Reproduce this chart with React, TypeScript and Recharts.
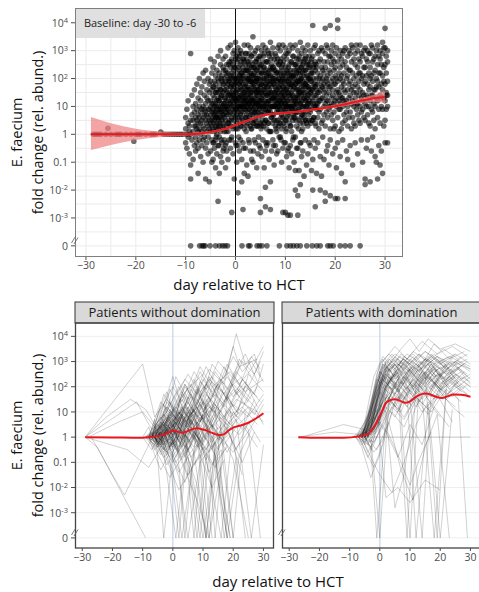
import {
  ComposedChart,
  LineChart,
  Scatter,
  Line,
  Area,
  XAxis,
  YAxis,
  CartesianGrid,
  ReferenceLine,
  ReferenceArea,
} from 'recharts';

const FONT = "'Open Sans', 'Noto Sans', sans-serif";

// Values are log10 fold change; a fold change of exactly 0 sits on its own row.
const ZERO_ROW = -4;
const Y_DOMAIN = [-4.4, 4.53];
const Y_TICKS = [-4, -3, -2, -1, 0, 1, 2, 3, 4];
const yTickBase = ['0', '10', '10', '0.1', '1', '10', '10', '10', '10'];
const yTickExp = ['', '-3', '-2', '', '', '', '2', '3', '4'];
const X_TICKS = [-30, -20, -10, 0, 10, 20, 30];
const X_DOMAIN_TOP = [-32.2, 33.6];
const X_DOMAIN_FACET = [-32.4, 33.5];

// baseline samples (day -30 to -10)
const baselineDays = [-28.5, -28, -27.5, -27, -26, -25.6, -25, -24, -23.5, -23, -22, -21, -20.4, -20, -19.5, -19, -18, -17, -16.5, -16, -15, -14.5, -14, -13.5, -13, -12.5, -12, -11.5, -11, -10.5];
const baselineLogs = [0, 0, 0, 0, 0, 0.22, 0, 0, 0, 0, 0, 0, -0.25, 0, 0, 0, 0, 0, 0, 0, 0.08, 0, 0, 0, 0, 0, 0, 0, 0, 0];

// post-baseline samples, one column per quarter day: "day|log10 values"
const cloudColumns = [
  '-10|0.2 -0.3 0.6', '-9.75|0 0.9 -0.5', '-9.5|-0.1 0.4 1.2', '-9.25|0.3 -0.7 0.1',
  '-9|2.9 -1.1 -1.6 0.5 0', '-8.75|0.7 -0.2 1.4', '-8.5|0.1 -0.9 0.5 1.0', '-8.25|-0.4 0.3 1.6 0.8',
  '-8|0.6 -0.1 1.1 -0.6 0.3', '-7.75|0.2 1.8 -0.3 0.9 0.5', '-7.5|-1.4 0.7 0.1 1.3 -0.5 0.4', '-7.25|1.0 -0.2 0.6 2.0 0.2',
  '-7|0.4 -0.8 1.5 0.8 0 1.2', '-6.75|0.9 0.1 -0.4 1.7 0.5', '-6.5|2.2 0.3 1.0 -1.0 0.6 -0.2', '-6.25|0.7 1.4 -0.1 0.2 1.9 0.9',
  '-6|2.3 -1.6 0.5 1.1 -0.5 0.8', '-5.75|1.3 0.1 0.7 -0.3 1.6 0.4', '-5.5|0.9 2.0 -0.7 0.3 1.2 -0.1 0.6', '-5.25|-1.7 0.5 1.5 0.2 0.9 1.8',
  '-5|2.7 0.4 1.2 -0.6 1.9 0.7 0.1 1.0', '-4.75|0.8 1.6 -0.2 0.5 2.2 1.1 -1.0 0.3',
  '-4.5|1.4 0.2 -0.9 0.9 2.4 0.6 1.7 -0.3', '-4.25|0.5 1.9 1.0 -0.5 0.1 1.3 2.6 0.7',
  '-4|2.1 0.8 -1.2 1.5 0.3 1.1 -0.2 1.8 0.6', '-3.75|1.2 0 0.7 2.3 -0.7 1.6 0.4 0.9',
  '-3.5|-2.4 1.5 0.6 2.0 -0.4 1.0 0.2 1.3 2.8', '-3.25|0.9 1.7 -0.1 0.4 2.2 1.2 -1.4 0.6',
  '-3|3.0 1.3 0.3 2.5 -0.8 1.6 0.8 1.0 0.1', '-2.75|1.1 2.1 0.5 -0.3 1.4 0.8 1.9 -1.0',
  '-2.5|2.4 0.7 -0.6 1.5 0.2 1.0 1.8 0.4 2.7', '-2.25|0.6 1.3 2.0 -0.2 0.9 1.6 0.1 1.1',
  '-2|2.8 1.0 -0.4 1.9 0.5 1.3 2.3 0.8 -1.2', '-1.75|1.5 0.3 2.1 1.0 -0.6 1.7 0.7 2.5',
  '-1.5|3.1 1.2 0.4 2.2 -0.9 1.4 0.9 1.8 0.1', '-1.25|0.8 1.9 1.1 2.6 -0.2 0.5 1.5 2.0',
  '-1|3.2 2.0 0.8 -0.5 1.4 2.4 1.1 0.3 1.7', '-0.75|-2.8 1.3 2.2 0.6 1.8 1.0 2.7 -0.1 1.5',
  '-0.5|2.5 1.2 0.2 2.9 -0.7 1.6 0.9 2.1 1.4', '-0.25|1.9 0.5 1.1 2.4 -1.6 1.7 0.8 2.0 1.3 3.0',
  '0|3.3 1.8 0.6 2.4 -0.3 1.3 2.0 0.9 1.5 2.7', '0.25|1.1 2.2 -1.0 1.6 0.4 2.6 1.2 1.9 0.7',
  '0.5|-2.1 2.7 1.0 0.2 3.1 1.6 -0.4 2.0 0.8 1.3', '0.75|1.4 2.3 0.5 1.8 1.0 2.8 -0.6 1.2 2.1 0.9',
  '1|2.1 0.7 3.0 1.4 -0.2 2.5 1.0 1.7 0.3 1.9', '1.25|-1.7 1.2 2.2 0.6 1.6 2.9 1.0 -0.9 1.4 2.0',
  '1.5|-2.7 2.4 1.1 0.5 1.8 2.7 1.3 0.8 2.1 -0.3', '1.75|1.5 0.9 2.3 1.2 3.2 0.2 1.7 2.6 1.0 -1.4',
  '2|1.5 2.9 0.6 2.2 -0.5 1.8 1.1 2.5 1.3 0.9', '2.25|2.0 1.2 0.3 1.6 2.7 1.0 -1.1 1.9 2.3 0.7',
  '2.5|-1.5 2.3 1.1 3.2 0.4 1.7 2.0 1.4 0.8 2.6', '2.75|1.3 0.6 1.9 2.4 -0.3 1.1 2.9 1.6 0.9 2.1',
  '3|2.6 1.0 3.1 0.3 1.9 1.4 -0.6 1.5 2.2 1.2', '3.25|1.7 2.4 0.8 1.2 2.8 0.2 1.9 1.0 -0.9 2.1',
  '3.5|3.5 1.8 0.7 2.5 1.2 -1.0 2.0 1.5 0.4 1.1', '3.75|1.0 2.2 1.6 0.5 2.9 1.3 -0.2 1.8 2.4 0.8',
  '4|2.1 0.9 3.0 1.6 -0.3 2.6 1.3 0.5 1.9 1.1', '4.25|1.4 2.3 0.7 1.9 1.1 2.7 -1.2 1.5 0.3 2.0',
  '4.5|1.7 3.1 0.8 2.4 -0.7 1.4 2.0 1.1 0.3 1.6', '4.75|0.9 1.8 2.5 1.2 0.4 2.2 1.5 -0.4 2.8 1.0',
  '5|-2.8 -2.3 2.8 1.2 0.4 2.0 1.7 -0.5 1.0 2.4', '5.25|1.5 0.8 2.2 1.1 3.0 0.3 1.8 1.3 -0.8',
  '5.5|2.2 0.7 3.2 1.4 -0.2 2.6 1.0 1.9 0.5', '5.75|1.2 2.0 0.4 1.6 2.4 1.0 -1.2 1.7 2.9',
  '6|-2.6 -1.9 1.8 3.1 0.5 2.3 1.2 -0.6 1.5 0.9', '6.25|2.1 1.1 0.2 1.7 2.6 1.4 0.8 -0.4 2.0',
  '6.5|2.6 1.1 3.0 0.4 1.9 2.2 -0.3 1.4 0.8', '6.75|0.9 1.6 2.3 1.2 0.1 2.8 1.0 1.9 -0.9',
  '7|-2.7 -1.7 2.1 0.8 3.3 1.5 0.1 2.4 1.2 1.8', '7.25|1.3 2.5 0.6 1.7 1.0 2.1 -0.6 1.5 2.9',
  '7.5|1.9 3.1 0.7 2.4 1.3 -0.2 2.0 1.0 0.4', '7.75|1.1 1.8 2.3 0.5 1.5 2.7 1.0 -1.1 1.3',
  '8|2.9 1.2 0.3 2.3 1.7 -0.4 1.0 1.5 2.0', '8.25|1.6 0.8 2.2 1.3 0.1 2.6 1.9 1.0 -0.7',
  '8.5|1.4 2.7 0.5 3.1 1.9 -0.6 1.1 2.2 0.9', '8.75|2.0 1.2 1.7 0.4 2.5 1.0 3.2 -0.1 1.5',
  '9|2.2 0.9 3.0 1.6 -0.1 2.6 1.2 0.4 1.8', '9.25|1.1 2.1 0.7 1.5 2.4 -1.0 1.3 1.9 0.2',
  '9.5|-2.8 1.7 3.2 0.6 2.5 1.3 -0.5 2.0 1.0', '9.75|1.4 0.8 2.2 1.9 0.3 2.8 1.1 1.6 -0.3',
  '10|-2.8 2.4 1.1 0.5 3.1 1.8 -0.3 2.0 1.4 0.9', '10.25|1.6 2.3 0.6 1.2 2.7 1.0 -0.8 1.9 0.2',
  '10.5|-2.9 1.5 2.9 0.7 2.2 1.2 -0.6 1.7 1.0', '10.75|1.0 1.8 2.5 0.4 1.4 3.0 0.8 2.1 -1.2',
  '11|-2.9 2.0 1.0 3.2 0.3 1.7 2.3 -0.4 1.3', '11.25|1.5 0.9 2.1 1.2 2.6 0.1 1.8 -0.7 1.0',
  '11.5|1.4 2.8 0.9 2.1 -0.2 1.6 3.1 0.5 1.9', '11.75|2.3 1.1 0.6 1.7 2.5 1.3 -1.0 2.0 0.8',
  '12|-2.0 -1.3 2.5 1.2 0.6 3.2 1.8 -0.1 2.1 1.0', '12.25|1.9 0.8 1.4 2.7 0.3 1.1 2.2 -0.5 1.6',
  '12.5|-2.2 -2.9 1.9 3.0 0.8 2.4 1.3 -0.5 1.6', '12.75|1.2 2.0 0.5 1.5 2.8 0.9 1.8 -1.3 2.3',
  '13|-1.8 2.6 1.1 3.3 0.4 1.9 2.2 -0.3 1.5', '13.25|1.7 0.7 2.4 1.2 0.1 2.0 1.4 -0.8 2.9',
  '13.5|2.2 0.7 1.6 3.1 -0.6 2.5 1.0 0.2 1.9', '13.75|1.0 1.8 2.3 0.6 1.3 2.7 -1.5 1.5',
  '14|1.8 3.0 0.5 2.3 1.2 -0.2 2.7 1.5 0.8', '14.25|1.3 2.1 0.4 1.7 2.5 1.0 -1.1 1.9',
  '14.5|2.6 1.1 0.3 3.2 1.7 -0.7 2.1 1.4', '14.75|0.9 1.6 2.4 1.2 -0.3 2.0 2.8 0.5',
  '15|2.0 0.8 3.0 1.5 -0.4 2.4 1.1', '15.25|1.6 2.2 0.5 1.3 2.7 -1.3 1.9',
  '15.5|3.9 -2.0 1.6 2.8 0.5 2.2 1.2 -0.9', '15.75|1.0 1.8 2.5 0.6 1.4 3.1 -0.2',
  '16|-2.6 2.3 1.0 3.2 0.4 1.7 2.6 -0.5', '16.25|1.3 2.0 0.9 1.6 2.4 -1.4 1.1',
  '16.5|1.5 2.9 0.6 2.2 1.1 -0.3 1.8', '16.75|2.0 1.2 0.2 2.6 1.5 3.0 0.8',
  '17|-2.0 2.1 0.9 2.7 1.6 -0.8 1.2', '17.25|1.9 0.4 2.4 1.3 3.1 -1.5 1.7',
  '17.5|1.3 3.0 0.5 2.3 1.7 -0.1 2.0', '17.75|1.0 2.6 1.5 0.7 2.2 -0.9 1.8',
  '18|3.8 -2.1 -2.4 2.4 1.1 0.3 2.9 1.6', '18.25|1.4 2.0 -0.6 1.9 0.8 3.2 1.2',
  '18.5|1.8 0.6 2.6 1.2 -0.4 2.1 3.1', '18.75|1.5 2.3 0.9 1.7 2.8 -1.1 1.0',
  '19|3.9 -2.2 2.2 1.0 2.8 0.2 1.7 -0.2', '19.25|2.5 1.3 0.7 3.0 1.9 1.1',
  '19.5|1.4 2.7 0.5 2.0 -0.7 1.6 3.2', '19.75|1.1 2.3 0.8 1.8 2.6 0.2',
  '20|-2.3 2.4 1.2 0.3 2.9 1.8 -0.5 2.1', '20.25|1.0 3.1 1.5 -1.2 2.0 1.3',
  '20.5|4.1 -2.3 3.8 1.6 2.6 0.6 1.9 -0.3', '20.75|1.2 2.2 0.9 2.8 1.5 0.1',
  '21|2.0 0.9 3.0 1.4 -0.8 2.4 1.1', '21.25|0.2 1.7 2.7 -1.4 1.3 2.1',
  '21.5|1.3 2.5 0.4 1.9 -0.2 2.9 1.0', '21.75|1.6 2.2 0.7 1.2 3.0 1.8',
  '22|-1.7 -2.3 2.6 1.1 0.5 3.1 1.5', '22.25|-0.6 2.0 1.2 2.4 0.8',
  '22.5|1.6 2.8 0.3 2.1 1.0 -0.9', '22.75|1.8 3.0 1.3 0.6 2.3',
  '23|2.3 0.8 2.9 1.4 -0.4 1.9', '23.25|1.1 2.6 0.2 1.6 3.2',
  '23.5|1.2 3.1 0.6 2.2 1.7 -1.1', '23.75|2.7 1.0 1.5 2.0 0.4',
  '24|2.5 1.3 0.3 2.9 1.8 -0.3', '24.25|2.1 0.9 1.5 3.2 1.1',
  '24.5|1.7 0.7 2.4 1.1 3.0 -0.7', '24.75|1.9 1.4 2.7 0.5 2.2',
  '25|2.2 1.0 3.2 1.6 0.4 2.6', '25.25|-0.2 1.3 2.0 0.8 2.9',
  '25.5|1.5 2.8 0.9 2.1 1.2 -1.0', '25.75|3.0 1.8 0.6 2.4 1.4',
  '26|-1.6 -1.8 2.4 1.1 3.1 0.5 1.9', '26.25|2.7 1.4 -0.5 2.1 1.0',
  '26.5|1.8 0.7 2.6 1.3 3.0 -0.2', '26.75|2.2 1.0 1.6 2.9 0.4',
  '27|-1.7 2.0 1.2 2.9 0.3 1.7 2.4', '27.25|-0.6 1.4 0.9 3.2 2.1',
  '27.5|1.4 2.6 0.8 3.1 1.9 -0.1', '27.75|2.2 1.1 2.7 0.5 1.6',
  '28|-0.8 2.3 1.0 2.8 1.6 0.2', '28.25|3.0 1.3 2.0 -1.0 1.7',
  '28.5|-1.6 1.9 0.6 2.5 1.2 3.2', '28.75|-0.4 1.7 2.2 0.9 2.8',
  '29|-1.1 2.7 1.4 0.4 2.2 3.0', '29.25|1.0 1.8 -0.6 2.5 1.3',
  '29.5|-1.4 2.1 0.9 2.9 1.6 3.3', '29.75|0.3 1.3 2.4 1.9 3.1',
  '30|3.8 -0.3 2.5 1.2 3.1 1.8 0.5', '30.25|2.2 1.5 2.8 0.9 1.4',
  '30.5|-0.3 1.9 1.0 2.6 1.4 3.0',
];

// extra samples in the busiest stretch (day -4 to 16)
const cloudCoreColumns = [
  '-4.375|0.4 1.1 -0.3 1.7 0.8', '-3.875|1.0 0.2 1.5 -0.1 0.6', '-3.375|0.8 1.9 0.3 1.2 -0.4 0.5',
  '-2.875|1.4 0.6 2.0 -0.2 0.9 1.6', '-2.375|0.3 1.1 1.8 0.7 -0.5 2.3', '-1.875|1.6 0.9 0.1 2.2 1.2 -0.3',
  '-1.375|0.7 1.4 2.5 0.4 1.0 1.9', '-0.875|2.1 1.2 0.5 1.7 -0.2 2.6', '-0.375|1.0 1.8 0.3 2.3 1.4 0.7',
  '0.125|2.0 0.9 1.5 2.8 0.2 1.2 -0.4', '0.625|1.3 2.4 0.6 1.8 1.0 2.9 -0.1', '1.125|0.8 1.6 2.2 1.1 0.3 2.6 1.9',
  '1.625|2.0 1.0 0.4 1.5 2.7 -0.5 1.3', '2.125|1.7 0.6 2.3 1.2 2.9 0.1 1.4', '2.625|1.1 2.0 0.5 1.6 2.5 0.9 -0.2',
  '3.125|2.2 1.3 0.7 1.9 2.8 0.2 1.5', '3.625|0.9 1.7 2.4 1.2 0.4 2.1 -0.6', '4.125|1.5 2.6 0.8 1.9 1.1 2.3 0.3',
  '4.625|2.0 1.2 0.6 2.7 1.6 -0.1 1.0', '5.125|1.3 2.2 0.7 1.8 2.5 0.2 1.5', '5.625|0.9 1.6 2.4 1.1 0.3 2.0 2.8',
  '6.125|1.8 1.0 2.6 0.5 1.4 2.2 -0.3', '6.625|1.2 2.1 0.4 1.7 2.9 0.8 1.5', '7.125|2.3 1.4 0.6 1.9 1.0 2.7 0.1',
  '7.625|1.0 1.8 2.4 0.7 1.3 2.0 -0.4', '8.125|1.6 0.5 2.2 1.1 2.8 1.4 0.2', '8.625|2.0 1.2 0.8 1.7 2.5 0.3 1.0',
  '9.125|1.4 2.3 0.6 1.9 1.1 2.7 -0.2', '9.625|0.9 1.7 2.1 1.2 0.4 2.6 1.5', '10.125|2.2 1.0 1.6 0.5 2.9 1.3 0.1',
  '10.625|1.5 2.4 0.8 1.9 1.1 2.0 -0.5', '11.125|1.0 1.8 2.6 0.6 1.4 2.2 0.3', '11.625|2.1 1.2 0.7 1.7 2.8 1.0 -0.1',
  '12.125|1.3 2.3 0.5 1.8 1.1 2.5 0.8', '12.625|1.9 0.9 2.2 1.4 0.2 2.7 1.6', '13.125|1.1 2.0 0.6 1.5 2.4 1.0 -0.3',
  '13.625|1.7 2.6 0.8 1.3 2.1 0.4', '14.125|1.2 2.3 1.8 0.5 2.8 1.0', '14.625|2.0 1.4 0.7 2.5 1.1 1.7',
  '15.125|1.5 2.2 0.9 1.9 2.6 0.4', '15.625|1.1 1.7 2.4 0.6 2.0', '16.125|1.8 1.0 2.5 1.4 0.3',
];

// samples with no E. faecium detected
const zeroDays = [-9, -7.2, -6.7, -6.4, -6.1, -5.1, -4, -3.2, -2.6, -2.1, -1.6, 1.3, 2.6, 2.9, 4.3, 4.8, 5.3, 6.3, 8.8, 10.3, 11, 11.6, 12.3, 13, 14.3, 15.4, 16.3, 17, 18.5, 19, 19.6, 21, 22, 23, 25];

// loess fit with 95% band
const smoothDays = [-29, -25, -20, -15, -10, -7, -5, -3, -1, 0, 2, 4, 5, 7, 10, 13, 15, 18, 20, 22, 25, 27, 28.5, 30];
const smoothFit = [0, 0, 0, 0, 0, 0.03, 0.08, 0.15, 0.26, 0.33, 0.46, 0.6, 0.66, 0.72, 0.77, 0.82, 0.87, 0.95, 1.01, 1.08, 1.2, 1.27, 1.31, 1.34];
const smoothLo = [-0.56, -0.38, -0.2, -0.1, -0.05, -0.02, 0.04, 0.11, 0.22, 0.29, 0.42, 0.56, 0.62, 0.68, 0.73, 0.78, 0.83, 0.9, 0.95, 1.01, 1.11, 1.16, 1.16, 1.1];
const smoothHi = [0.62, 0.4, 0.2, 0.1, 0.05, 0.08, 0.12, 0.19, 0.3, 0.37, 0.5, 0.64, 0.7, 0.76, 0.81, 0.86, 0.91, 1.0, 1.07, 1.15, 1.29, 1.38, 1.46, 1.58];

// per-patient trajectories, "day log10 day log10 ..."
const noDomTraces = [
  '-29 0 -25 -0.4 -9 -4',
  '-29 0 -10 2.9 -6 0.8 -2 1.5 3 0.6 8 1.9 14 0.2',
  '-29 0 -12 1.4 -7 0.3 -3 0.9 2 -0.5 6 1.1 12 0.4 18 -4',
  '-29 0 -22 0.8 -14 1.5 -9 1.1 -5 0.3 -1 0.9 3 0.2',
  '-27 0 -20 -1.5 -16 -2.3 -6 0.2 -1 0.7 4 1.8 10 2.5',
  '-7 0 -3 0.5 1 1.2 5 0.4 9 1.6 13 2.2 17 1.4 22 2.8 28 3.1',
  '-6 0 -2 -0.6 2 0.3 6 -1.2 10 -4 14 -0.5 19 0.2',
  '-8 0 -4 1.1 0 2.0 3 1.4 7 2.6 11 1.9 15 3.0 21 2.2 26 1.5',
  '-5 0 -1 0.4 3 -0.3 7 0.9 11 -0.8 16 -4 20 0.5 25 1.2 30 0.6',
  '-7 0 -4 0.2 -1 -0.9 2 -4 5 0.1 9 0.7 13 1.3',
  '-6 0 -3 0.8 0 1.5 4 2.3 8 1.7 12 2.7 17 2.1 21 4.1 24 2.9 27 3.3 29 2.4',
  '-9 0 -5 -0.4 -1 0.3 3 0.9 7 0.2 12 -0.6 18 0.4 23 -1.5',
  '-5 0 -2 1.2 2 0.6 6 1.9 10 1.1 14 1.7 20 0.9',
  '-7 0 -4 -0.2 0 -1.3 3 -4 7 -0.7 11 0.2',
  '-8 0 -5 0.6 -2 1.0 1 2.4 5 1.5 9 2.8 13 2.0 19 2.6 24 1.8 30 2.3',
  '-6 0 -3 0.3 1 -0.2 4 0.8 8 0.4 12 1.2 16 0.7 21 1.5 28 1.0',
  '-4 0 -1 -0.5 2 -1.6 5 -4 9 -1.0 14 -0.2 19 -4',
  '-7 0 -5 0.9 -2 1.8 1 0.7 4 1.3 8 -0.4 13 0.8 18 1.6 23 3.0 27 2.5 30 3.4',
  '-6 0 -2 0.2 2 1.0 6 0.5 10 1.4 15 0.9 20 2.1 25 1.4',
  '-8 0 -4 -0.7 0 -0.2 4 -1.3 8 -2.5 12 -4 16 -1.2',
  '-5 0 -2 0.7 1 1.6 5 2.5 9 1.8 13 2.4 18 1.5 22 2.0 26 3.2 29 2.7',
  '-7 0 -3 1.3 0 0.4 3 1.7 6 0.8 10 2.0 14 1.1 18 -4',
  '-6 0 -3 -0.3 1 0.5 5 1.2 9 0.3 13 -0.5 17 0.6 22 0.1 27 0.8',
  '-9 0 -6 0.4 -3 -0.1 0 0.9 4 0.2 8 1.5 12 0.8 16 2.2 20 1.2 24 2.0 28 1.6',
  '-5 0 -1 1.9 3 1.0 7 -4 11 1.5 15 0.6',
  '-7 0 -4 0.5 -1 -0.4 2 0.6 6 -0.3 10 0.9 15 0.1 20 -0.6 26 0.4 30 1.3',
  '-6 0 -2 -1.1 2 -0.4 5 0.7 9 -0.2 13 0.5 17 -4 21 -0.8',
  '-8 0 -5 -0.2 -2 0.6 2 1.4 6 2.1 10 1.3 14 2.6 18 1.9 23 2.4',
  '-4 0 0 0.5 4 -0.8 8 0.3 12 -1.4 16 -0.2 21 0.7 26 -4 30 -0.3',
  '-7 0 -4 0.9 0 2.4 3 1.2 7 0.5 11 1.7 16 1.0 20 2.5 24 3.3 28 2.2',
  '-6 0 -3 0.1 0 -0.7 4 -1.8 7 -0.6 11 -4 14 -1.0 18 -0.4',
  '-5 0 -2 0.4 2 0.9 6 1.6 10 0.7 14 1.3 19 0.5 24 1.1',
  '-8 0 -4 -0.9 -1 -1.6 3 -0.8 7 0.2 11 -0.5 15 0.4',
  '-7 0 -3 1.7 1 1.0 5 0.3 9 2.2 13 1.6 17 2.8 21 1.7 25 2.1',
  '-6 0 -2 0.2 2 -0.6 6 0.4 10 -0.3 14 0.9 18 0.3 23 -1.0 27 0.2',
  '-5 0 -2 -0.4 1 0.3 4 -4 8 0.6 12 0.1',
  '-7 0 -4 0.3 0 1.1 4 0.6 8 1.8 12 1.0 16 1.9 21 0.8 25 2.5 30 1.8',
  '-10 0 -7 -0.5 -4 0.2 -1 -0.8 3 0.1 7 -1.1 12 -0.3',
  '-6 0 -3 0.9 1 0.2 5 1.4 9 0.6 13 2.0 17 1.2 22 3.1 26 2.4',
  '-4 0 0 -0.3 4 0.5 8 -0.2 12 0.7 16 -0.1 20 1.0 25 0.3 29 -4',
  '-7 0 -4 -0.1 -1 0.6 2 -0.2 6 1.0 10 0.2 14 -0.7 19 -4',
  '-29 0 -15 -0.5 -8 -1.2 -4 -0.4 0 0.3 5 -0.5',
  '-28 0 -18 0.6 -10 1.0 -6 0.4 -2 1.2 3 0.5 8 1.0',
  '-8 0 -6 0.7 -3 -4 0 -0.6 3 0.4 7 1.1 11 0.3 15 1.0 20 0.4',
  '-5 0 -2 0.6 2 1.5 5 0.8 9 1.3 13 0.4 16 1.1 20 1.9 24 1.3 28 2.0',
  '-7 0 -4 0.4 0 0.1 3 0.8 7 -0.1 11 0.5 15 -0.5 19 0.6 23 1.4 27 0.9 30 1.5',
  '-6 0 -3 -0.6 1 -4 4 -0.9 8 -0.3',
  '-8 0 -4 1.4 0 0.8 4 2.0 8 1.3 12 2.3 17 1.7 21 2.6 25 2.0 29 3.0',
  '-5 0 -1 -0.1 3 0.6 7 1.3 11 0.5 15 1.5 19 0.8 23 1.2 28 0.5',
  '-7 0 -4 0.7 -1 1.4 2 0.9 6 1.7 10 1.0 14 1.8 18 2.4 22 1.6',
  '-6 0 -2 -0.2 2 0.4 5 -0.5 9 0.8 13 0.0 18 -4 22 -0.7 26 0.3',
  '-9 0 -5 0.2 -1 1.0 3 0.3 7 -0.4 11 1.0 15 0.3 19 1.1 24 -4',
  '-3 0 1 0.8 5 0.1 9 1.0 13 -0.2 17 0.5 21 -0.5 25 0.6 29 -0.2',
  '-7 0 -3 -0.8 1 -0.3 5 -1.5 9 -0.7 13 -2.0 17 -0.9',
  '-5 0 -2 1.0 2 2.0 5 1.3 9 2.6 13 1.8 17 2.4 20 3.2 23 2.6 26 3.0 30 2.2',
  '-8 0 -5 -0.3 -2 0.3 2 -0.1 6 0.7 10 -0.5 14 0.2 18 -0.6 23 0.5 28 -0.4',
  '-6 0 -3 0.5 1 -0.8 4 0.3 8 -4 12 0.2 16 0.8',
  '-7 0 -4 -0.4 0 0.7 4 0.1 8 0.9 12 1.6 17 0.8 22 1.9 27 1.2 30 0.5',
  '-5 0 -1 0.9 3 1.8 7 1.0 11 2.1 15 1.3 20 -4 24 1.0',
  '-6 0 -2 -0.9 2 -2.1 6 -1.3 10 -0.4 14 -1.2 18 -0.3',
  '-4 0 0 0.2 4 1.2 8 0.5 12 -4 16 0.6 20 1.3 25 0.8 30 1.7',
  '-8 0 -6 0.3 -4 -0.2 -2 0.5 0 0.1 2 0.8 4 0.3',
  '-7 0 -5 -0.4 -3 0.2 -1 -0.3 1 0.6 3 0.2 6 -0.2 9 0.5',
  '-6 0 -4 0.4 -2 0.9 0 0.4 2 1.3 5 0.7 8 1.2 11 0.6 14 1.4',
  '-5 0 -3 -0.2 -1 0.3 1 -0.5 4 0.1 7 -0.6 10 0.3',
  '-9 0 -7 0.2 -5 -0.3 -3 0.4 -1 0.9 1 0.5 4 1.2',
  '-8 0 -5 0.5 -3 0.1 0 0.7 3 1.5 6 0.9 9 1.6 12 2.4 15 1.5',
  '-6 0 -4 -0.6 -2 -0.1 1 -1.0 4 -0.4 7 0.1 10 -0.8 13 -4',
  '-7 0 -5 0.1 -2 -0.5 1 0.2 4 -0.2 8 0.6 11 -0.1 15 0.9 19 0.3',
  '-5 0 -3 0.6 0 0.2 2 1.0 5 0.4 8 1.1 11 1.8 14 1.0 17 2.0',
  '-8 0 -6 -0.2 -4 0.6 -1 0.2 2 -0.4 5 0.3 9 -0.5',
  '-6 0 -3 0.2 -1 1.1 2 0.5 5 1.6 8 0.8 12 1.3 16 0.6',
  '-7 0 -4 -0.3 -2 0.4 1 0.9 4 0.4 7 1.4 10 0.7 14 1.2 18 0.5 22 1.0',
  '-4 0 -2 0.3 0 -0.2 3 0.5 6 1.2 9 0.6 12 1.5 16 2.3 20 1.6 24 2.2 28 1.2',
  '-9 0 -6 -0.5 -3 0.1 0 -0.4 3 0.3 6 -0.8 9 -0.2',
  '-5 0 -2 0.5 1 0.1 3 0.9 6 0.3 9 -0.4 13 0.5 17 -0.3 21 0.4 26 1.0',
  '-6 0 -4 0.8 -2 0.3 1 1.4 4 2.1 7 1.4 10 2.3 14 1.6 18 2.9 22 2.1 26 2.7 30 3.6',
  '-7 0 -5 0.2 -3 -0.4 0 -1.0 3 -0.3 6 -1.5 9 -4 12 -0.7',
  '-8 0 -5 0.3 -2 0.8 1 0.3 4 1.0 7 0.4 10 0.9 13 -0.4 16 0.2 20 -0.9 25 -4',
  '-6 0 -3 -0.5 0 0.3 3 -0.1 6 0.5 9 1.3 12 0.6 15 -0.1 19 1.0 23 0.3 27 1.5',
  '-5 0 -3 0.3 -1 -0.4 2 0.2 5 1.0 8 0.1 11 -0.9 14 0.1',
  '-7 0 -4 0.6 -1 0.1 2 1.1 5 0.5 8 1.9 11 1.1 15 2.1 19 1.3 23 2.3 27 1.7 30 2.9',
  '-10 0 -8 0.4 -6 -0.3 -3 0.5 0 -0.2 3 -0.9 6 -0.3',
  '-6 0 -4 0.1 -1 0.7 2 0.1 5 -0.6 8 0.2 11 -4 14 -0.4 17 0.3',
  '-5 0 -2 -0.3 1 0.7 4 1.5 7 2.3 10 1.6 13 2.9 17 2.3 20 3.6 22 2.8',
  '-8 0 -6 -0.7 -4 -1.3 -1 -0.6 2 -1.4 5 -0.8 8 -1.9 11 -4',
  '-6 0 -3 0.7 0 0.2 3 1.2 6 0.5 9 1.4 13 0.8 17 1.8 21 1.0 25 2.0 29 1.4',
  '-7 0 -5 -0.1 -2 0.2 1 0.6 4 0.0 7 0.7 10 -0.2 13 0.8 16 0.3',
  '-4 0 -1 0.8 2 0.3 5 1.1 8 2.0 11 1.2 14 -4 18 1.6 22 0.9 26 1.9',
  '-9 0 -5 0.3 -2 1.4 1 0.9 4 2.1 7 1.5 11 2.8 15 1.9',
  '-6 0 -4 -0.2 -2 -0.7 0 -0.1 3 -0.7 6 0.2 9 -0.3 13 -1.1 16 -0.5 20 -4',
  '-8 0 -6 0.2 -4 -0.1 -2 0.3 0 -0.3 2 0.4 5 -0.1',
  '-7 0 -5 0.3 -3 0.6 -1 0.2 1 0.9 3 0.4',
  '-6 0 -5 -0.2 -3 -0.5 -1 0.1 1 -0.3 3 0.5 6 0.1',
  '-9 0 -7 -0.1 -5 0.2 -3 -0.3 -1 0.4 2 0.0 5 0.6',
  '-7 0 -6 0.4 -4 0.1 -2 0.7 0 0.3 2 1.0 4 0.5 7 1.1',
  '-8 0 -6 -0.4 -4 -0.1 -2 -0.6 0 -0.2 3 -0.8 6 -0.3',
  '-6 0 -4 0.2 -2 0.0 0 0.5 2 0.1 4 0.7 7 0.2 10 0.8',
  '-5 0 -4 -0.3 -2 0.2 0 -0.4 2 0.3 5 -0.2 8 0.4',
  '-7 0 -5 0.5 -3 0.2 -1 0.8 1 0.4 3 1.1 6 0.6',
  '-8 0 -7 0.1 -5 -0.2 -3 0.1 -1 -0.5 1 0.0 4 -0.4 7 0.2',
  '-6 0 -4 -0.3 -2 0.4 0 0.0 3 0.6 6 0.2 9 0.9 12 0.3',
  '-5 0 -3 0.1 -1 0.5 1 0.1 3 -0.4 6 0.3 9 -0.1',
];

const domTraces = [
  '-27 0 -15 0.2 -6 0.1 -2 1.4 2 2.6 6 2.9 10 2.4 15 3.1 20 2.7 25 3.0 30 2.6',
  '-26 0 -12 0.5 -5 0.3 -1 1.8 3 2.9 7 3.2 12 2.6 17 3.0 22 2.5 28 2.9',
  '-7 0 -4 0.4 -1 2.1 2 3.0 6 2.5 10 3.1 14 2.7 19 3.2 24 2.8 29 3.1',
  '-6 0 -3 -0.2 0 1.0 3 2.2 7 2.8 11 2.0 15 2.6 20 1.8 25 2.4',
  '-5 0 -2 0.8 1 2.5 4 3.1 8 2.7 13 3.3 18 2.9 23 3.2 30 2.8',
  '-7 0 -4 0.2 -1 0.9 2 1.6 5 1.2 9 2.0 13 1.4 17 2.3 22 1.7 27 2.1',
  '-6 0 -3 1.2 0 2.6 3 2.1 7 3.0 12 2.4 16 3.1 21 2.2 26 2.7',
  '-5 0 -2 -0.6 1 -0.1 4 1.0 8 0.4 12 1.5 16 0.9 20 1.8 24 1.2 28 0.8',
  '-8 0 -5 0.3 -2 1.7 1 2.8 5 3.3 10 2.9 15 3.4 20 3.0 25 3.3',
  '-6 0 -3 0.5 0 1.3 3 2.4 6 1.8 10 2.5 14 1.6 18 -4 22 1.9',
  '-7 0 -4 -0.3 -1 0.6 2 1.9 6 2.6 10 -4 13 2.1 17 2.9 21 2.3',
  '-5 0 -2 1.5 1 2.9 4 2.3 8 3.2 13 2.8 18 3.3 24 2.6 29 3.0',
  '-6 0 -2 0.3 2 1.1 6 1.9 10 1.3 14 2.2 18 1.5 23 2.4 28 1.9',
  '-4 0 -1 1.0 2 2.3 5 2.9 9 2.2 13 2.7 17 2.0 22 2.8 27 2.3 30 2.5',
  '-7 0 -5 -0.5 -2 -1.2 1 -0.3 5 1.4 9 2.0 14 1.0 19 1.7 24 0.6',
  '-6 0 -3 0.7 0 2.0 3 3.1 7 2.6 11 3.2 15 2.5 20 3.0 26 2.2',
  '-5 0 -2 0.2 1 0.7 4 1.8 8 2.4 12 1.9 16 2.6 21 2.1 25 2.8 30 2.3',
  '-8 0 -5 0.6 -2 2.4 1 3.2 5 2.7 9 3.3 14 2.9 18 3.7 23 3.1 28 3.4',
  '-6 0 -3 -0.4 -1 -4 2 0.8 6 1.6 10 1.1',
  '-7 0 -4 0.1 -1 1.2 3 2.0 7 1.5 11 2.3 16 1.7 20 2.5 25 2.0 30 1.6',
  '-5 0 -2 0.9 1 1.8 5 2.5 9 1.9 13 2.8 17 2.2 22 2.9',
  '-6 0 -3 0.4 0 1.6 3 2.7 7 2.1 11 2.9 15 2.3 19 3.1 23 2.5 27 2.8',
  '-4 0 -1 0.5 2 1.3 6 2.2 10 1.5 14 -4 17 1.8 21 2.6',
  '-7 0 -4 0.8 -1 2.3 2 2.0 6 2.9 10 2.6 15 3.1 20 2.4 24 2.9 29 2.5',
  '-5 0 -2 -0.2 1 0.4 4 1.2 8 0.7 12 1.6 17 1.0 22 1.9 27 1.4',
  '-6 0 -3 1.0 0 2.2 4 2.8 8 3.1 12 2.5 17 3.3 22 2.7 27 3.2',
  '-3 0 0 -4 3 1.5 6 2.3 10 1.7 15 2.5 19 -4 22 2.0',
  '-7 0 -4 0.3 -1 1.5 2 2.5 6 2.0 10 2.8 14 2.2 18 2.7 23 1.9 28 2.4',
  '-6 0 -3 -0.8 0 -1.5 4 -2.2 8 -1.0 12 0.5 16 1.4 20 0.8',
  '-5 0 -2 1.1 1 2.0 5 1.5 9 2.4 13 1.8 17 2.6 21 3.0 26 2.1',
  '-8 0 -4 0.5 -1 1.9 2 2.7 5 3.2 9 2.8 13 3.3 18 2.6 24 3.0 30 2.7',
  '-6 0 -2 0.6 2 1.7 6 1.1 10 2.0 14 1.5 18 2.2 22 1.6 26 2.3',
  '-7 0 -3 0.3 1 2.8 4 2.2 8 3.0 12 2.3 16 2.9 20 2.1 25 2.6',
  '-5 0 -1 -0.5 3 0.6 7 -1.3 11 -2.5 15 -0.4 19 0.9 23 -4',
  '-6 0 -3 0.2 0 0.9 3 1.9 7 2.6 11 2.0 15 2.8 20 2.3 26 2.7 30 2.1',
  '-4 0 -1 1.3 2 2.6 6 3.1 10 2.5 14 3.0 19 2.4 24 3.1',
  '-6 0 -1 0 5 0 12 0 20 0 30 0',
  '-5 0 -2 0.7 1 1.4 5 2.0 9 1.2 13 2.1 17 1.3 21 2.2 26 1.5 29 -4',
  '-6 0 -3 1.4 0 2.9 3 3.3 7 2.8 11 3.4 16 3.0 21 3.5 26 3.1',
  '-7 0 -5 0.2 -2 0.8 2 0.2 6 -0.8 10 0.5 14 -0.3 18 1.2 23 0.4',
  '-6 0 -3 0.6 0 1.8 3 1.3 7 2.2 11 1.6 15 2.4 19 1.8 24 2.2 29 1.7',
  '-5 0 -2 0.3 2 2.0 5 2.6 9 3.0 13 2.6 17 3.2 21 2.8 25 3.3 30 2.9',
  '-8 0 -6 -0.4 -3 -1.6 0 -0.7 3 0.9 7 1.7 11 1.2',
  '-6 0 -3 0.9 0 2.4 4 1.9 8 2.6 12 1.7 16 2.4 20 1.9 25 2.5 30 2.0',
  '-4 0 -1 0.2 2 1.2 5 0.8 9 1.7 12 -4 16 1.3 20 -4 24 1.1',
  '-7 0 -4 0.5 -1 1.1 2 -2.4 6 -2.0 10 -2.6 15 -1.7 20 -2.1',
  '-6 0 -2 1.6 1 3.0 5 3.6 9 3.1 14 3.8 19 3.3 24 3.6 29 3.2',
  '-5 0 -2 1.2 1 2.4 4 3.0 7 3.5 10 3.9 13 3.4 16 3.9 20 3.5 25 3.7 30 3.4',
  '-8 0 -6 0.1 -4 0.5 -2 1.3 0 2.2 2 2.8 5 2.4 8 2.9 12 2.2 16 2.7 20 2.0 25 2.5 30 2.2',
  '-7 0 -5 -0.3 -3 0.4 -1 1.5 1 2.3 4 1.9 7 2.5 10 1.8 14 2.6 18 2.1 23 2.8',
  '-6 0 -4 0.2 -2 0.7 0 1.9 2 3.0 4 3.3 7 2.9 11 3.3 15 2.8 19 3.2 24 2.9 29 3.3',
  '-5 0 -3 -0.4 -1 0.3 1 1.1 3 2.0 6 1.4 9 2.2 13 1.7 17 2.4 22 1.8',
  '-8 0 -6 0.3 -4 0.9 -2 1.8 0 2.6 3 2.2 6 2.7 9 2.0 13 2.5 17 1.9 21 2.6 26 2.0 30 2.4',
  '-7 0 -4 0.1 -2 0.6 0 1.2 2 2.1 5 2.6 8 2.1 12 2.9 16 2.3 20 2.8 25 2.2',
  '-6 0 -4 -0.6 -2 -0.2 1 0.5 4 1.6 7 1.0 10 1.9 14 1.3 18 2.1 22 1.5 27 2.0',
  '-5 0 -3 0.9 -1 2.3 1 2.9 4 2.6 8 3.1 12 2.7 16 3.2 21 2.6 26 3.0 30 2.7',
  '-9 0 -7 0.2 -5 0.6 -3 1.1 -1 2.0 2 2.4 6 1.8 10 2.6 15 2.0 19 2.5',
  '-6 0 -4 0.4 -2 1.0 0 2.0 3 2.5 6 2.0 9 -4 12 2.2 16 1.6 20 2.3',
  '-7 0 -5 0.0 -3 -0.5 -1 0.4 2 1.3 5 2.1 8 1.5 12 2.3 17 1.6 22 2.4 27 1.8',
  '-5 0 -3 0.3 -1 1.4 1 2.2 4 2.9 7 2.3 11 2.8 15 2.1 19 2.7 23 2.0 28 2.6',
  '-8 0 -6 -0.2 -4 -0.8 -2 -0.3 1 0.6 4 1.4 8 0.8 12 1.6 16 1.1 20 1.7 25 1.2',
  '-6 0 -4 0.7 -2 1.6 0 2.4 2 2.9 5 2.3 9 2.8 13 2.2 17 2.9 21 2.3 25 2.9 29 2.4',
  '-7 0 -5 0.4 -3 0.9 -1 1.7 1 2.6 4 3.0 8 2.5 13 3.0 18 2.4 24 2.7',
  '-4 0 -2 0.5 0 1.3 2 1.0 5 -2.8 8 -1.5 11 0.9 14 1.8 18 1.2',
  '-6 0 -3 0.1 0 0.8 3 1.6 6 1.0 9 1.8 12 1.2 16 2.0 21 1.5 26 2.2 30 1.8',
  '-5 0 -3 1.2 -1 2.5 1 3.1 3 2.6 7 3.3 11 2.9 15 3.4 20 2.9 24 3.2',
  '-8 0 -5 0.2 -3 0.6 -1 1.3 2 2.2 5 1.7 8 2.4 11 1.9 15 2.6 19 2.0 24 1.6 29 2.1',
  '-7 0 -5 -0.2 -3 0.3 -1 0.9 1 1.8 3 2.4 6 1.9 10 2.7 14 2.1 18 2.8 22 2.2 27 2.6',
  '-6 0 -4 0.3 -2 0.2 0 0.6 3 0.1 6 -0.7 10 -1.9 13 -0.9 17 0.2',
  '-5 0 -3 0.6 -1 1.8 2 2.5 5 2.1 8 2.7 12 2.0 16 2.5 20 1.9 25 2.4 30 2.0',
  '-8 0 -7 0.1 -5 -0.1 -3 0.3 -1 0.9 1 1.7 3 2.2 6 1.9',
  '-7 0 -6 -0.2 -4 0.2 -2 0.6 0 1.4 2 2.0 5 2.5 8 2.1',
  '-6 0 -5 0.2 -3 0.1 -2 0.5 0 1.1 2 1.9 4 2.4',
  '-9 0 -7 0.0 -5 0.3 -3 -0.2 -1 0.4 1 1.0 4 1.8 7 1.4',
  '-8 0 -6 -0.3 -4 0.0 -2 0.3 0 0.7 2 1.5 5 2.2 9 1.7',
  '-7 0 -5 0.3 -4 0.6 -2 1.1 0 1.8 2 2.4 5 2.9',
];

// group fits for the two facets
const noDomFitDays = [-29, -20, -12, -8, -5, -3, -1.5, 0, 1.5, 3, 4.5, 6, 8, 10, 12, 14, 15.5, 17, 18.5, 20, 22.5, 25, 27.5, 30];
const noDomFit = [0, -0.01, -0.02, 0, 0.04, 0.1, 0.18, 0.26, 0.22, 0.17, 0.22, 0.3, 0.35, 0.3, 0.22, 0.12, 0.08, 0.12, 0.27, 0.38, 0.46, 0.57, 0.74, 0.95];
const domFitDays = [-27, -20, -12, -7, -5, -3.5, -2, -0.5, 1, 2, 3.5, 5, 6.5, 8.5, 10, 11.5, 13, 15, 17, 19, 20.5, 22, 24.5, 27, 30];
const domFit = [0, -0.02, -0.02, 0.03, 0.08, 0.17, 0.4, 0.72, 1.1, 1.36, 1.47, 1.5, 1.45, 1.36, 1.42, 1.56, 1.67, 1.73, 1.68, 1.58, 1.55, 1.6, 1.69, 1.68, 1.6];

const nums = (s: string) => s.trim().split(/\s+/).map(Number);
const toPoints = (s: string) => {
  const n = nums(s);
  const pts: { x: number; y: number }[] = [];
  for (let i = 0; i < n.length; i += 2) pts.push({ x: n[i], y: n[i + 1] });
  return pts;
};
const fromColumns = (cols: string[]) =>
  cols.flatMap((col) => {
    const [day, vals] = col.split('|');
    return nums(vals).map((y) => ({ x: Number(day), y }));
  });

const scatterRows = [
  ...baselineDays.map((x, i) => ({ x, y: baselineLogs[i] })),
  ...fromColumns(cloudColumns),
  ...fromColumns(cloudCoreColumns),
  ...zeroDays.map((x) => ({ x, y: ZERO_ROW })),
];
const smoothRows = smoothDays.map((x, i) => ({ x, fit: smoothFit[i], band: [smoothLo[i], smoothHi[i]] }));
const noDomLines = noDomTraces.map(toPoints);
const domLines = domTraces.map(toPoints);
const noDomFitRows = noDomFitDays.map((x, i) => ({ x, y: noDomFit[i] }));
const domFitRows = domFitDays.map((x, i) => ({ x, y: domFit[i] }));

const gridX = [-30, -25, -20, -15, -10, -5, 0, 5, 10, 15, 20, 25, 30];
const gridY = [-4, -3.5, -3, -2.5, -2, -1.5, -1, -0.5, 0, 0.5, 1, 1.5, 2, 2.5, 3, 3.5, 4];

const RED = '#e8171e';
const TICK_COLOR = '#4d4d4d';
const fmtDay = (v: number) => (v < 0 ? '\u2212' + Math.abs(v) : String(v));

function LogTick(props: any) {
  const { x, y, payload } = props;
  const i = Y_TICKS.indexOf(payload.value);
  return (
    <text x={x} y={y} dy="0.36em" textAnchor="end" fontSize={10.5} fill={TICK_COLOR} fontFamily={FONT}>
      <tspan>{yTickBase[i]}</tspan>
      {yTickExp[i] ? (
        <tspan dy="-0.5em" fontSize={7.5}>
          {yTickExp[i]}
        </tspan>
      ) : null}
    </text>
  );
}

const xTick = { fontSize: 10.5, fill: TICK_COLOR, fontFamily: FONT };

// panel rectangles in page pixels
const TOP = { l: 75, r: 403, t: 8, b: 257 };
const FACET_T = 323;
const FACET_B = 548;
const STRIP_T = 302;
const LEFT_FACET = { l: 75, r: 274 };
const RIGHT_FACET = { l: 282, r: 481 };
const RIGHT_PAD = 24;

function BreakMark({ x, y }: { x: number; y: number }) {
  return (
    <g stroke="#555" strokeWidth={0.8}>
      <line x1={x - 3.5} y1={y + 3} x2={x + 0.5} y2={y - 3.5} />
      <line x1={x - 1} y1={y + 4} x2={x + 3} y2={y - 2.5} />
    </g>
  );
}

function Strip({ l, r, label }: { l: number; r: number; label: string }) {
  return (
    <g>
      <rect x={l} y={STRIP_T} width={r - l} height={FACET_T - STRIP_T} fill="#d9d9d9" stroke="#333" strokeWidth={1} />
      <text x={(l + r) / 2} y={(STRIP_T + FACET_T) / 2} dy="0.36em" textAnchor="middle" fontSize={13} fill="#1a1a1a" fontFamily={FONT}>
        {label}
      </text>
    </g>
  );
}

function YTitle({ cy }: { cy: number }) {
  return (
    <g fontFamily={FONT} fontSize={14.5} fill="#111" textAnchor="middle">
      <text transform={`translate(17,${cy}) rotate(-90)`} dy="0.36em">
        E. faecium
      </text>
      <text transform={`translate(38,${cy}) rotate(-90)`} dy="0.36em">
        fold change (rel. abund.)
      </text>
    </g>
  );
}

const lineProps = { dot: false, activeDot: false, isAnimationActive: false } as const;
const traceStyle = { stroke: '#111', strokeOpacity: 0.32, strokeWidth: 0.6 };

export default function App() {
  return (
    <div style={{ position: 'absolute', left: 0, top: 0, width: 479, height: 592, overflow: 'hidden', background: '#fff' }}>
      <div style={{ position: 'absolute', left: 0, top: 0 }}>
        <ComposedChart width={479} height={300} data={smoothRows} margin={{ top: TOP.t, right: 479 - TOP.r, bottom: 0, left: 0 }}>
          <CartesianGrid stroke="#ebebeb" strokeWidth={1} verticalValues={gridX} horizontalValues={gridY} />
          <XAxis
            type="number"
            dataKey="x"
            domain={X_DOMAIN_TOP}
            ticks={X_TICKS}
            interval={0}
            allowDataOverflow
            axisLine={false}
            tickLine={{ stroke: TICK_COLOR }}
            tickSize={3}
            tickMargin={2}
            height={300 - TOP.b}
            tick={xTick}
            tickFormatter={fmtDay}
          />
          <YAxis
            type="number"
            dataKey="y"
            domain={Y_DOMAIN}
            ticks={Y_TICKS}
            interval={0}
            allowDataOverflow
            axisLine={false}
            tickLine={{ stroke: TICK_COLOR }}
            tickSize={4}
            tickMargin={3}
            width={TOP.l}
            tick={<LogTick />}
          />
          <ReferenceArea
            x1={X_DOMAIN_TOP[0]}
            x2={-6.1}
            y1={3.45}
            y2={Y_DOMAIN[1]}
            fill="#e0e0e0"
            fillOpacity={1}
            stroke="none"
            label={{ value: 'Baseline: day -30 to -6', position: 'center', fontSize: 11, fill: '#222', fontFamily: FONT }}
          />
          <Scatter
            data={scatterRows}
            isAnimationActive={false}
            shape={(p: any) => <circle cx={p.cx} cy={p.cy} r={2.8} fill="#000" fillOpacity={0.57} />}
          />
          <Area type="monotone" dataKey="band" stroke="none" fill="#ee7d7d" fillOpacity={0.7} isAnimationActive={false} zIndex={650} />
          <Line type="monotone" dataKey="fit" stroke={RED} strokeWidth={2} {...lineProps} zIndex={700} />
          <ReferenceLine x={0} stroke="#111" strokeWidth={1} />
        </ComposedChart>
      </div>

      <div style={{ position: 'absolute', left: 0, top: 300 }}>
        <LineChart width={LEFT_FACET.r + 2} height={292} margin={{ top: FACET_T - 300, right: 2, bottom: 0, left: 0 }}>
          <CartesianGrid vertical={false} stroke="#efefef" horizontalValues={Y_TICKS} />
          <XAxis
            type="number"
            dataKey="x"
            domain={X_DOMAIN_FACET}
            ticks={X_TICKS}
            interval={0}
            allowDataOverflow
            axisLine={false}
            tickLine={{ stroke: TICK_COLOR }}
            tickSize={3}
            tickMargin={3}
            height={592 - FACET_B}
            tick={xTick}
            tickFormatter={fmtDay}
          />
          <YAxis
            type="number"
            domain={Y_DOMAIN}
            ticks={Y_TICKS}
            interval={0}
            allowDataOverflow
            axisLine={false}
            tickLine={{ stroke: TICK_COLOR }}
            tickSize={4}
            tickMargin={3}
            width={LEFT_FACET.l}
            tick={<LogTick />}
          />
          <ReferenceLine x={0} stroke="#c8d1e8" strokeWidth={1.2} />
          {noDomLines.map((pts, i) => (
            <Line key={'n' + i} data={pts} dataKey="y" type="linear" {...traceStyle} {...lineProps} />
          ))}
          <Line data={noDomFitRows} dataKey="y" type="monotone" stroke={RED} strokeWidth={2} {...lineProps} />
        </LineChart>
      </div>

      <div style={{ position: 'absolute', left: RIGHT_FACET.l - RIGHT_PAD, top: 300 }}>
        <LineChart
          width={RIGHT_FACET.r - RIGHT_FACET.l + RIGHT_PAD + 2}
          height={292}
          margin={{ top: FACET_T - 300, right: 2, bottom: 0, left: RIGHT_PAD }}
        >
          <CartesianGrid vertical={false} stroke="#efefef" horizontalValues={Y_TICKS} />
          <XAxis
            type="number"
            dataKey="x"
            domain={X_DOMAIN_FACET}
            ticks={X_TICKS}
            interval={0}
            allowDataOverflow
            axisLine={false}
            tickLine={{ stroke: TICK_COLOR }}
            tickSize={3}
            tickMargin={3}
            height={592 - FACET_B}
            tick={xTick}
            tickFormatter={fmtDay}
          />
          <YAxis hide type="number" domain={Y_DOMAIN} ticks={Y_TICKS} allowDataOverflow width={0} />
          <ReferenceLine x={0} stroke="#c8d1e8" strokeWidth={1.2} />
          {domLines.map((pts, i) => (
            <Line key={'d' + i} data={pts} dataKey="y" type="linear" {...traceStyle} {...lineProps} />
          ))}
          <Line data={domFitRows} dataKey="y" type="monotone" stroke={RED} strokeWidth={2} {...lineProps} />
        </LineChart>
      </div>

      <svg width={479} height={592} style={{ position: 'absolute', left: 0, top: 0, pointerEvents: 'none' }}>
        <rect x={TOP.l + 0.5} y={TOP.t + 0.5} width={TOP.r - TOP.l - 1} height={TOP.b - TOP.t - 1} fill="none" stroke="#7f7f7f" strokeWidth={1} />
        <BreakMark x={TOP.l} y={240} />
        <text x={(TOP.l + TOP.r) / 2} y={285} dy="0.36em" textAnchor="middle" fontSize={15} fill="#111" fontFamily={FONT}>
          day relative to HCT
        </text>
        <YTitle cy={(TOP.t + TOP.b) / 2} />

        <Strip l={LEFT_FACET.l} r={LEFT_FACET.r} label="Patients without domination" />
        <Strip l={RIGHT_FACET.l} r={RIGHT_FACET.r} label="Patients with domination" />
        <rect x={LEFT_FACET.l + 0.5} y={FACET_T} width={LEFT_FACET.r - LEFT_FACET.l - 1} height={FACET_B - FACET_T} fill="none" stroke="#444" strokeWidth={1.3} />
        <rect x={RIGHT_FACET.l + 0.5} y={FACET_T} width={RIGHT_FACET.r - RIGHT_FACET.l - 1} height={FACET_B - FACET_T} fill="none" stroke="#444" strokeWidth={1.3} />
        <BreakMark x={LEFT_FACET.l} y={532} />
        <BreakMark x={RIGHT_FACET.l} y={532} />
        <text x={(LEFT_FACET.l + RIGHT_FACET.r) / 2} y={582} dy="0.36em" textAnchor="middle" fontSize={15} fill="#111" fontFamily={FONT}>
          day relative to HCT
        </text>
        <YTitle cy={(FACET_T + FACET_B) / 2} />
      </svg>
    </div>
  );
}
